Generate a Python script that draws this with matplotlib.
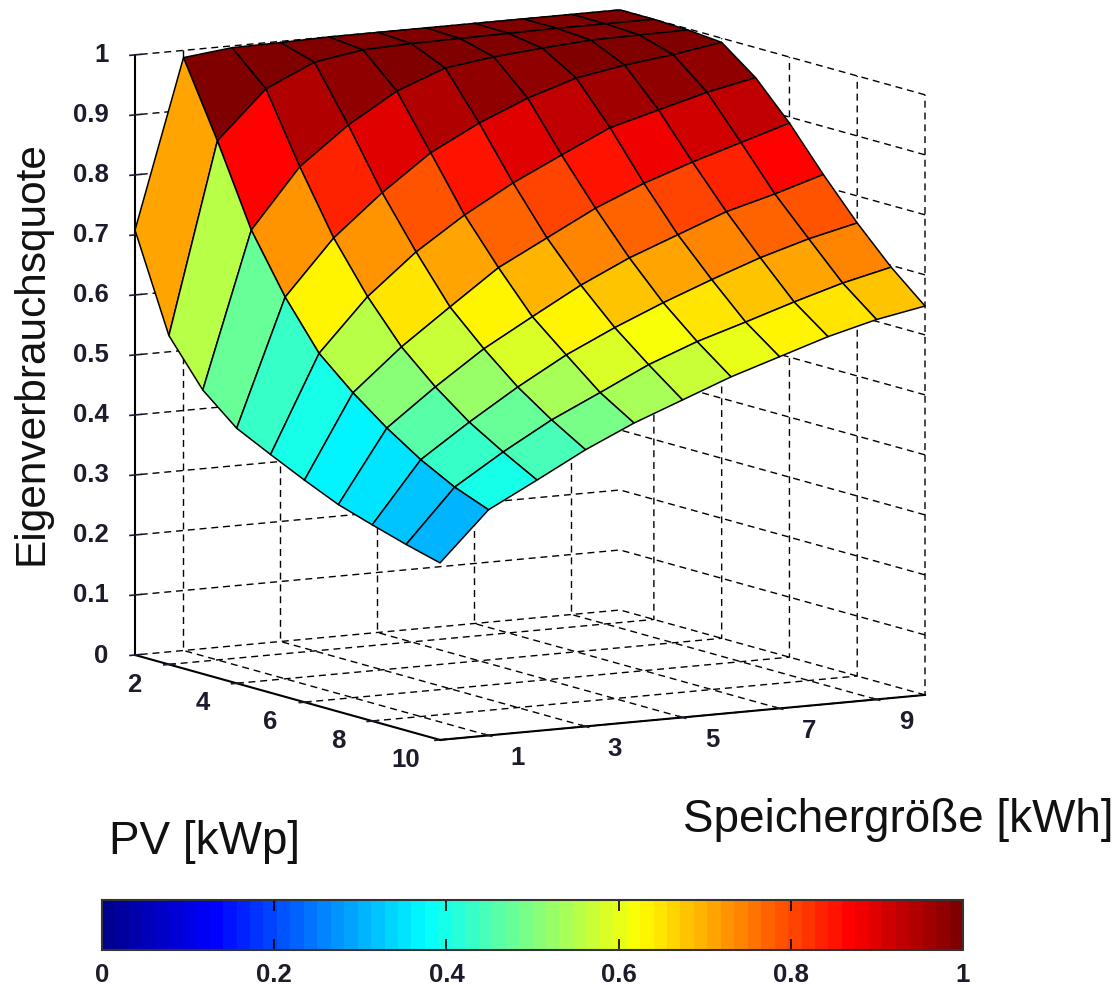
import numpy as np
import matplotlib
matplotlib.use("Agg")
import matplotlib.pyplot as plt
from matplotlib.cm import ScalarMappable
from matplotlib.colors import LinearSegmentedColormap, Normalize
from matplotlib.text import Text
from mpl_toolkits.mplot3d import proj3d

pv_kwp = [1, 2, 3, 4, 5, 6, 7, 8, 9, 10]
storage_kwh = [0, 1, 2, 3, 4, 5, 6, 7, 8, 9, 10]
# one row per storage size, one column per PV size
quote_s0 = [.708, .548, .473, .425, .397, .370, .345, .327, .310, .295]
quote_s1 = [.988, .865, .732, .636, .558, .508, .465, .428, .398, .376]
quote_s2 = [.997, .944, .830, .727, .645, .577, .526, .483, .449, .418]
quote_s3 = [.998, .981, .892, .795, .712, .636, .582, .534, .495, .461]
quote_s4 = [1.00, .994, .941, .854, .766, .694, .628, .580, .533, .498]
quote_s5 = [1.00, .997, .972, .896, .812, .736, .673, .618, .572, .529]
quote_s6 = [1.00, .998, .983, .930, .851, .778, .711, .652, .603, .560]
quote_s7 = [1.00, .999, .990, .956, .889, .812, .742, .683, .628, .586]
quote_s8 = [1.00, 1.00, .996, .970, .911, .840, .773, .712, .654, .612]
quote_s9 = [1.00, 1.00, .997, .980, .933, .865, .795, .736, .678, .633]
quote_s10 = [1.00, 1.00, .998, .993, .950, .890, .820, .755, .697, .648]
pv_ticks = [2, 4, 6, 8, 10]
storage_ticks = [1, 3, 5, 7, 9]
z_ticks = [0, .1, .2, .3, .4, .5, .6, .7, .8, .9, 1]
z_ticklabels = ['0', '0.1', '0.2', '0.3', '0.4', '0.5', '0.6', '0.7', '0.8', '0.9', '1']
cbar_ticks = [0, .2, .4, .6, .8, 1]
cbar_ticklabels = ['0', '0.2', '0.4', '0.6', '0.8', '1']

W, H = 1118, 985
plt.rcParams.update({
    'font.family': ['Liberation Sans', 'DejaVu Sans'],
    'grid.color': 'black', 'grid.linewidth': 1.0,
    'grid.linestyle': (0, (5, 3.5)),
    'text.color': '#1c1c2c', 'xtick.color': '#1c1c2c', 'ytick.color': '#1c1c2c',
})
# MATLAB's jet with 64 entries
jet64 = LinearSegmentedColormap.from_list(
    'jet64',
    [(0, (0, 0, .5625)), (1/8, (0, 0, 1)), (3/8, (0, 1, 1)),
     (5/8, (1, 1, 0)), (7/8, (1, 0, 0)), (1, (.5, 0, 0))], N=64)
norm = Normalize(0, 1)

fig = plt.figure(figsize=(W/100, H/100), dpi=100)
ax = fig.add_axes([.1, .1, .8, .8], projection='3d', proj_type='ortho')
ax.view_init(elev=9.25, azim=-30)
ax.set_box_aspect((610, 560, 608))
ax.patch.set_alpha(0)

X, Y = np.meshgrid(pv_kwp, storage_kwh)
Z = np.array([quote_s0, quote_s1, quote_s2, quote_s3, quote_s4, quote_s5,
              quote_s6, quote_s7, quote_s8, quote_s9, quote_s10])
ax.plot_surface(X, Y, Z, rstride=1, cstride=1, facecolors=jet64(norm(Z)),
                edgecolor='black', linewidth=1.1, shade=False, antialiased=True)

ax.set_xlim(1, 10, view_margin=0)
ax.set_ylim(0, 10, view_margin=0)
ax.set_zlim(0, 1, view_margin=0)
ax.set_xticks(pv_ticks)
ax.set_yticks(storage_ticks)
ax.set_zticks(z_ticks)
ax.set_zticklabels(z_ticklabels)
ax.zaxis.set_ticks_position('lower')
for axis in (ax.xaxis, ax.yaxis, ax.zaxis):
    axis.set_pane_color((1, 1, 1, 0))
    axis.pane.set_edgecolor((1, 1, 1, 0))
    axis.line.set_color('black')
    axis.line.set_linewidth(1.5)
    axis._axinfo['tick']['linewidth'] = {True: 1.2, False: 1.0}
    axis._axinfo['tick']['inward_factor'] = 0.13
    axis._axinfo['tick']['outward_factor'] = 0.16
ax.tick_params(labelsize=18.5, pad=6)
for lab in ax.get_xticklabels() + ax.get_yticklabels() + ax.get_zticklabels():
    lab.set_fontweight('bold')
for lab in ax.get_zticklabels():
    lab.set_ha('right')


def px(x, y, z):
    xs, ys, _ = proj3d.proj_transform(x, y, z, ax.get_proj())
    return ax.transData.transform((xs, ys))


# fit the projected box onto the reference's corners
for _ in range(3):
    fig.canvas.draw()
    a, b = px(1, 0, 0), px(10, 10, 0)
    s = 790 / (b[0] - a[0])
    p = ax.get_position()
    side = p.width * W * s
    ax.set_position([p.x0, p.y0, side / W, side / H])
    fig.canvas.draw()
    a = px(1, 0, 0)
    p = ax.get_position()
    ax.set_position([p.x0 + (135 - a[0]) / W, p.y0 + ((H - 655) - a[1]) / H, p.width, p.height])
fig.canvas.draw()


def pin_label(axis, text, cx, cy, rot, size):
    axis.set_label_text(text, fontsize=size, color='#111111')
    axis.set_rotate_label(False)
    axis.label.set_rotation(rot)
    axis._axinfo['label'].update(va='center', ha='center')
    Text.set_position(axis.label, ax.transData.inverted().transform((cx, H - cy)))
    axis.label.set_position = lambda xy: None


def nudge_ticklabels(axis, dx_px, dy_px):
    o = ax.transData.inverted().transform((0, 0))
    d = ax.transData.inverted().transform((dx_px, -dy_px)) - o
    for tick in axis.get_major_ticks():
        orig = tick.label1.set_position
        tick.label1.set_position = (lambda f: lambda xy: f((xy[0] + d[0], xy[1] + d[1])))(orig)


pin_label(ax.xaxis, 'PV [kWp]', 204, 842, 0, 33)
pin_label(ax.yaxis, 'Speichergröße [kWh]', 898, 820, 0, 33)
pin_label(ax.zaxis, 'Eigenverbrauchsquote', 32, 353, 90, 30.5)
nudge_ticklabels(ax.xaxis, -16, -16)
nudge_ticklabels(ax.yaxis, 18, -15)
nudge_ticklabels(ax.zaxis, 3, -10)

cax = fig.add_axes([102 / W, 1 - 950 / H, 861 / W, 50 / H])
cb = fig.colorbar(ScalarMappable(norm=norm, cmap=jet64), cax=cax, orientation='horizontal')
cb.set_ticks(cbar_ticks, labels=cbar_ticklabels)
cb.minorticks_off()
cax.tick_params(axis='x', direction='in', top=True, bottom=True, length=8, width=1.2,
                color='black', labelsize=18.5, pad=9)
for lab in cax.get_xticklabels():
    lab.set_fontweight('bold')
cb.outline.set_edgecolor('#333333')
cb.outline.set_linewidth(1.5)

fig.savefig('out.png', dpi=100)
